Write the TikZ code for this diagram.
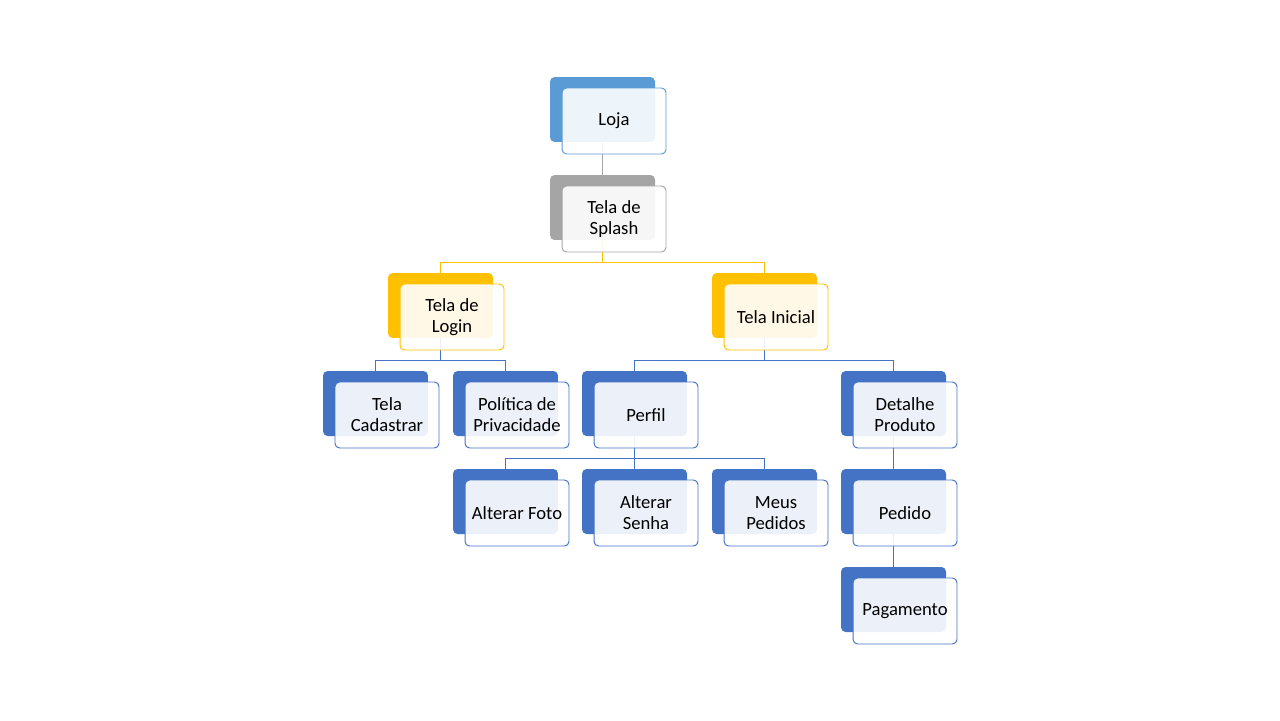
\documentclass[tikz,border=0pt]{standalone}
\usepackage{fontspec}
\setmainfont{Carlito}
\usepackage{tikz}
\usetikzlibrary{positioning}

\definecolor{TopBlue}{HTML}{5B9BD5}
\definecolor{SplashGrey}{HTML}{A5A5A5}
\definecolor{ScreenGold}{HTML}{FFC000}
\definecolor{PageBlue}{HTML}{4472C4}

\tikzset{
	backbox/.style={fill=#1, rounded corners=2.6pt, minimum width=2.1cm, minimum height=1.3cm, inner sep=0pt},
	frontbox/.style={draw=#1, line width=0.55pt, fill=white, fill opacity=0.9, text opacity=1, rounded corners=2.6pt,
		minimum width=2.08cm, minimum height=1.32cm, inner sep=0pt, align=center,
		font=\fontsize{10.6pt}{11.9pt}\selectfont},
	link/.style={draw=#1, line width=0.55pt},
}

\begin{document}
\begin{tikzpicture}[x=0.02cm, y=-0.02cm]

	\useasboundingbox (0,0) rectangle (1280,720);

	% back boxes
	\node[backbox=TopBlue]    (loja)      at (602.5,109.5) {};
	\node[backbox=SplashGrey] (splash)    at (602.5,207.5) {};
	\node[backbox=ScreenGold] (login)     at (440.5,305.5) {};
	\node[backbox=ScreenGold] (inicial)   at (764.5,305.5) {};
	\node[backbox=PageBlue]   (cadastrar) at (375.5,403.5) {};
	\node[backbox=PageBlue]   (politica)  at (505.5,403.5) {};
	\node[backbox=PageBlue]   (perfil)    at (634.5,403.5) {};
	\node[backbox=PageBlue]   (detalhe)   at (893.5,403.5) {};
	\node[backbox=PageBlue]   (foto)      at (505.5,501.5) {};
	\node[backbox=PageBlue]   (senha)     at (634.5,501.5) {};
	\node[backbox=PageBlue]   (pedidos)   at (764.5,501.5) {};
	\node[backbox=PageBlue]   (pedido)    at (893.5,501.5) {};
	\node[backbox=PageBlue]   (pagamento) at (893.5,599.5) {};

	% connectors
	\draw[link=SplashGrey] (loja.south) -- (splash.north);
	\draw[link=ScreenGold] (splash.south) -- ++(0,22) -| (login.north);
	\draw[link=ScreenGold] (splash.south) -- ++(0,22) -| (inicial.north);
	\draw[link=PageBlue] (login.south) -- ++(0,22) -| (cadastrar.north);
	\draw[link=PageBlue] (login.south) -- ++(0,22) -| (politica.north);
	\draw[link=PageBlue] (inicial.south) -- ++(0,22) -| (perfil.north);
	\draw[link=PageBlue] (inicial.south) -- ++(0,22) -| (detalhe.north);
	\draw[link=PageBlue] (perfil.south) -- ++(0,22) -| (foto.north);
	\draw[link=PageBlue] (perfil.south) -- ++(0,22) -| (senha.north);
	\draw[link=PageBlue] (perfil.south) -- ++(0,22) -| (pedidos.north);
	\draw[link=PageBlue] (detalhe.south) -- (pedido.north);
	\draw[link=PageBlue] (pedido.south) -- (pagamento.north);

	% front boxes with the texts
	\node[frontbox=TopBlue]    (lojaT)      at ([shift={(11.5,11.5)}]loja)      {Loja};
	\node[frontbox=SplashGrey] (splashT)    at ([shift={(11.5,11.5)}]splash)    {Tela de\\Splash};
	\node[frontbox=ScreenGold] (loginT)     at ([shift={(11.5,11.5)}]login)     {Tela de\\Login};
	\node[frontbox=ScreenGold] (inicialT)   at ([shift={(11.5,11.5)}]inicial)   {Tela Inicial};
	\node[frontbox=PageBlue]   (cadastrarT) at ([shift={(11.5,11.5)}]cadastrar) {Tela\\Cadastrar};
	\node[frontbox=PageBlue]   (politicaT)  at ([shift={(11.5,11.5)}]politica)  {Política de\\Privacidade};
	\node[frontbox=PageBlue]   (perfilT)    at ([shift={(11.5,11.5)}]perfil)    {Perfil};
	\node[frontbox=PageBlue]   (detalheT)   at ([shift={(11.5,11.5)}]detalhe)   {Detalhe\\Produto};
	\node[frontbox=PageBlue]   (fotoT)      at ([shift={(11.5,11.5)}]foto)      {Alterar Foto};
	\node[frontbox=PageBlue]   (senhaT)     at ([shift={(11.5,11.5)}]senha)     {Alterar\\Senha};
	\node[frontbox=PageBlue]   (pedidosT)   at ([shift={(11.5,11.5)}]pedidos)   {Meus\\Pedidos};
	\node[frontbox=PageBlue]   (pedidoT)    at ([shift={(11.5,11.5)}]pedido)    {Pedido};
	\node[frontbox=PageBlue]   (pagamentoT) at ([shift={(11.5,11.5)}]pagamento) {Pagamento};

\end{tikzpicture}
\end{document}
